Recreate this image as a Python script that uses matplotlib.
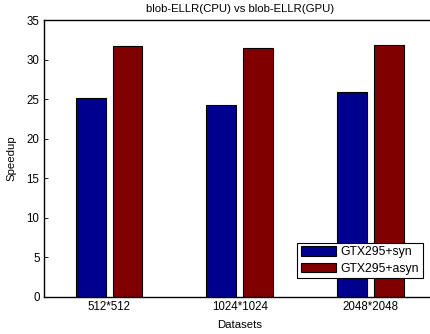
import matplotlib
matplotlib.use("Agg")
import matplotlib.pyplot as plt
import numpy as np

datasets = ["512*512", "1024*1024", "2048*2048"]
syn_speedup = [25.1, 24.3, 25.9]
asyn_speedup = [31.7, 31.5, 31.9]
series_names = ["GTX295+syn", "GTX295+asyn"]
y_ticks = [0, 5, 10, 15, 20, 25, 30, 35]

plt.rcParams["font.family"] = ["Liberation Sans", "DejaVu Sans"]

fig = plt.figure(figsize=(4.3, 3.34), dpi=100)
ax = fig.add_axes([0.1016, 0.1117, 0.912, 0.8284])

x = np.arange(1, len(datasets) + 1)
w = 0.229
off = 0.141
ax.bar(x - off, syn_speedup, w, color="#00008F", edgecolor="black",
       linewidth=0.8, label=series_names[0])
ax.bar(x + off, asyn_speedup, w, color="#800000", edgecolor="black",
       linewidth=0.8, label=series_names[1])

ax.set_xlim(0.5, 3.5)
ax.set_ylim(0, 35)
ax.set_yticks(y_ticks)
ax.set_xticks(x)
ax.set_xticklabels(datasets)
ax.tick_params(axis="both", direction="in", labelsize=8.3, length=3,
               width=0.6, colors="black")
ax.tick_params(axis="y", pad=3)
ax.tick_params(axis="x", length=0, pad=3)
for side in ["left", "bottom", "top"]:
    ax.spines[side].set_linewidth(1.0)
ax.spines["right"].set_visible(False)

ax.set_title("blob-ELLR(CPU) vs blob-ELLR(GPU)", fontsize=8.2, pad=6)
ax.set_xlabel("Datasets", fontsize=8.2, labelpad=5.5)
ax.set_ylabel("Speedup", fontsize=8.2, labelpad=7)

leg = ax.legend(loc="lower right", bbox_to_anchor=(0.966, 0.066),
                fontsize=8.8, frameon=True, fancybox=False, edgecolor="black",
                framealpha=1, borderpad=0.3, handlelength=2.9,
                handleheight=0.85, handletextpad=0.35, labelspacing=0.35,
                borderaxespad=0)
leg.get_frame().set_linewidth(0.8)

fig.savefig("out.png", dpi=100)
